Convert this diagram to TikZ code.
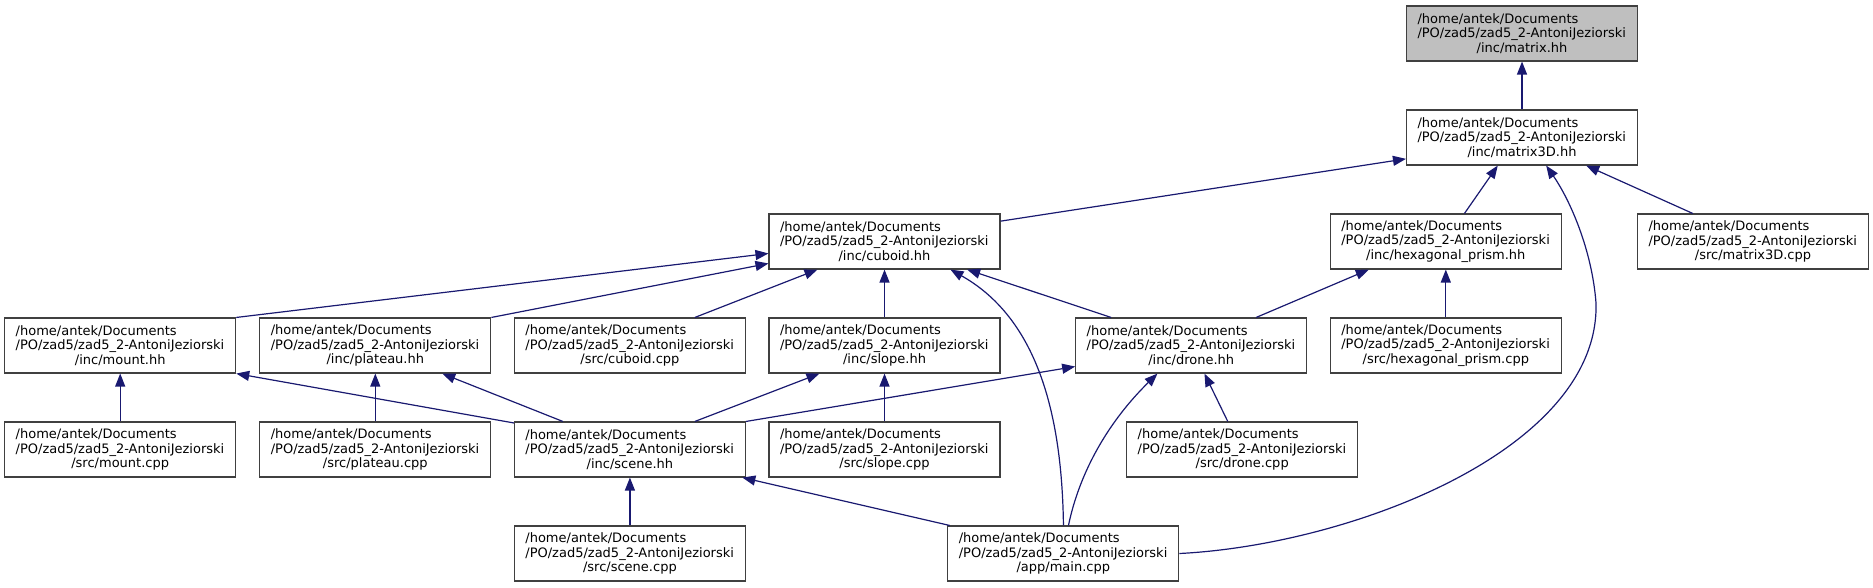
\documentclass[tikz,border=0pt]{standalone}
\usepackage{fontspec}
\setmainfont{DejaVu Sans}
\usetikzlibrary{arrows.meta}
\definecolor{edgeblue}{HTML}{191970}
\definecolor{rootfill}{HTML}{BFBFBF}
\definecolor{boxline}{HTML}{404040}
\newcommand{\flab}[1]{\parbox{209pt}{\raggedright /home/antek/Documents\\/PO/zad5/zad5\_2-AntoniJeziorski\\\hbox to 209pt{\hfil#1\hfil}}}
\tikzset{
  filebox/.style={draw=boxline, line width=1.1pt, fill=white, minimum width=231pt, minimum height=55pt, inner sep=0pt, font=\fontsize{13}{14.7}\selectfont},
  rootbox/.style={filebox, fill=rootfill},
  inc/.style={draw=edgeblue, line width=1.2pt, -{Triangle[length=13pt,width=10pt,fill=edgeblue]}}
}
\begin{document}
\begin{tikzpicture}[x=1pt,y=-1pt]
\useasboundingbox (0,0) rectangle (1873,587);
% row 0
\node[rootbox] (matrix) at (1522,33.5) {\flab{/inc/matrix.hh}};
% row 1
\node[filebox] (matrix3D) at (1522,137.5) {\flab{/inc/matrix3D.hh}};
% row 2
\node[filebox] (cuboid) at (884.5,241.5) {\flab{/inc/cuboid.hh}};
\node[filebox] (hex) at (1445.8,241.5) {\flab{/inc/hexagonal\_prism.hh}};
\node[filebox] (mtdcpp) at (1753,241.5) {\flab{/src/matrix3D.cpp}};
% row 3
\node[filebox] (mount) at (120.2,345.5) {\flab{/inc/mount.hh}};
\node[filebox] (plateau) at (375.3,345.5) {\flab{/inc/plateau.hh}};
\node[filebox] (cuboidcpp) at (629.9,345.5) {\flab{/src/cuboid.cpp}};
\node[filebox] (slope) at (884.5,345.5) {\flab{/inc/slope.hh}};
\node[filebox] (drone) at (1191.2,345.5) {\flab{/inc/drone.hh}};
\node[filebox] (hexcpp) at (1445.8,345.5) {\flab{/src/hexagonal\_prism.cpp}};
% row 4
\node[filebox] (mountcpp) at (120.2,449.5) {\flab{/src/mount.cpp}};
\node[filebox] (plateaucpp) at (375.3,449.5) {\flab{/src/plateau.cpp}};
\node[filebox] (scene) at (629.9,449.5) {\flab{/inc/scene.hh}};
\node[filebox] (slopecpp) at (884.5,449.5) {\flab{/src/slope.cpp}};
\node[filebox] (dronecpp) at (1242.2,449.5) {\flab{/src/drone.cpp}};
% row 5
\node[filebox] (scenecpp) at (629.9,553.5) {\flab{/src/scene.cpp}};
\node[filebox] (main) at (1063.3,553.5) {\flab{/app/main.cpp}};

% edges
\draw[inc] (matrix3D.north) -- (matrix.south);
\draw[inc] ([yshift=-7.7pt]cuboid.north east) -- ([yshift=6.7pt]matrix3D.south west);
\draw[inc] ([xshift=134.7pt]hex.north west) -- ([xshift=91.8pt]matrix3D.south west);
\draw[inc] (main.east) .. controls (1350,545) and (1600,450) .. (1596,303)
  .. controls (1592,250) and (1570,200) .. ([xshift=140.2pt]matrix3D.south west);
\draw[inc] ([xshift=55.8pt]mtdcpp.north west) -- ([xshift=180.2pt]matrix3D.south west);
\draw[inc] (mount.north east) -- ([yshift=-40pt]cuboid.north west);
\draw[inc] (plateau.north east) -- ([yshift=-50pt]cuboid.north west);
\draw[inc] ([xshift=181pt]cuboidcpp.north west) -- ([xshift=49pt]cuboid.south west);
\draw[inc] (slope.north) -- (cuboid.south);
\draw[inc] ([xshift=116.2pt]main.north west) .. controls (1062,420) and (1040,320) .. ([xshift=182pt]cuboid.south west);
\draw[inc] ([xshift=36pt]drone.north west) -- ([xshift=198.7pt]cuboid.south west);
\draw[inc] ([xshift=181pt]drone.north west) -- ([xshift=39pt]hex.south west);
\draw[inc] (hexcpp.north) -- (hex.south);
\draw[inc] (mountcpp.north) -- (mount.south);
\draw[inc] ([yshift=-1.5pt]scene.north west) -- (mount.south east);
\draw[inc] (plateaucpp.north) -- (plateau.south);
\draw[inc] ([xshift=49pt]scene.north west) -- ([xshift=183pt]plateau.south west);
\draw[inc] ([xshift=181pt]scene.north west) -- ([xshift=51pt]slope.south west);
\draw[inc] (scene.north east) -- ([yshift=7pt]drone.south west);
\draw[inc] (slopecpp.north) -- (slope.south);
\draw[inc] ([xshift=101.6pt]dronecpp.north west) -- ([xshift=129.3pt]drone.south west);
\draw[inc] ([xshift=121.2pt]main.north west) .. controls (1080,470) and (1110,420) .. ([xshift=82.3pt]drone.south west);
\draw[inc] (scenecpp.north) -- (scene.south);
\draw[inc] ([xshift=2.4pt]main.north west) -- ([xshift=-3.6pt]scene.south east);
\end{tikzpicture}
\end{document}
